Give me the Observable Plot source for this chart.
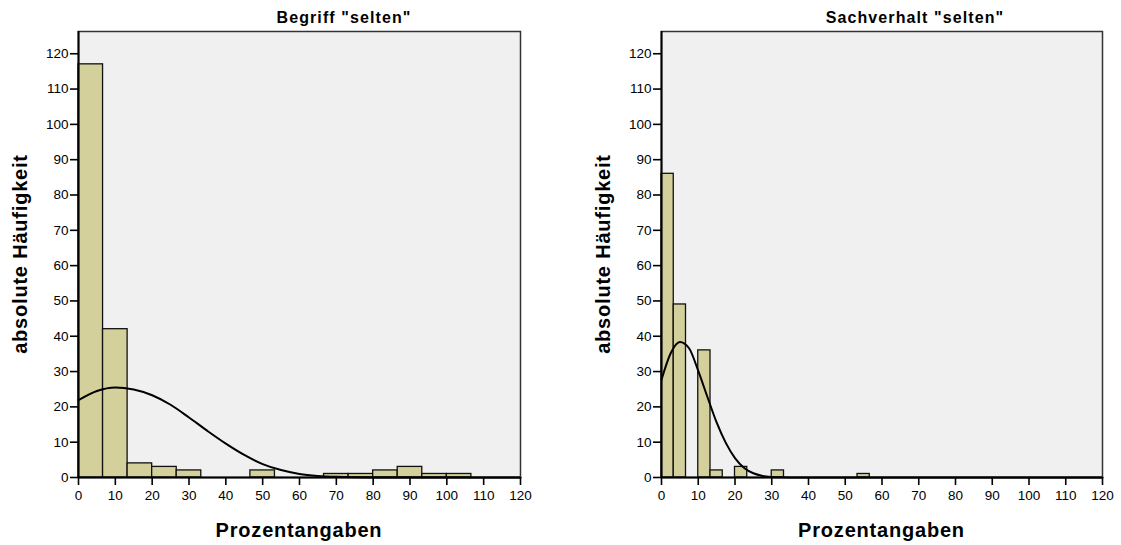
<!DOCTYPE html>
<html>
<head>
<meta charset="utf-8">
<script src="https://cdn.jsdelivr.net/npm/d3@7"></script>
<script src="https://cdn.jsdelivr.net/npm/@observablehq/plot@0.6"></script>
<style>
  html, body { margin: 0; padding: 0; background: #ffffff; }
  #root { position: relative; width: 1121px; height: 545px; overflow: hidden; font-family: "Liberation Sans", Arial, sans-serif; }
  #root > div { position: absolute; top: 0; }
</style>
</head>
<body>
<div id="root"><div id="left"></div><div id="right"></div></div>
<script>
// ---- data ----
const xTicks = [0, 10, 20, 30, 40, 50, 60, 70, 80, 90, 100, 110, 120];
const yTicks = [0, 10, 20, 30, 40, 50, 60, 70, 80, 90, 100, 110, 120];

const leftTitle = 'Begriff "selten"';
const leftBinWidth = 100 / 15;
const leftCounts = [117, 42, 4, 3, 2, 0, 0, 2, 0, 0, 1, 1, 2, 3, 1, 1];
const leftCurveX = [0, 5, 10, 15, 20, 25, 30, 35, 40, 45, 50, 55, 60, 65, 70, 75, 80, 90, 100, 110, 120];
const leftCurveY = [21.9, 24.5, 25.5, 24.9, 23.3, 20.6, 17.0, 13.2, 9.6, 6.4, 3.8, 2.1, 1.0, 0.45, 0.18, 0.06, 0.02, 0, 0, 0, 0];

const rightTitle = 'Sachverhalt "selten"';
const rightBinWidth = 10 / 3;
const rightCounts = [86, 49, 0, 36, 2, 0, 3, 0, 0, 2, 0, 0, 0, 0, 0, 0, 1];
const rightCurveX = [0, 2.5, 5, 7.5, 10, 12.5, 15, 17.5, 20, 22.5, 25, 27.5, 30, 32.5, 35, 40, 60, 80, 100, 120];
const rightCurveY = [27.7, 35.2, 38.4, 36.6, 30.2, 22.8, 15.6, 9.8, 5.5, 2.7, 1.2, 0.45, 0.15, 0.04, 0.01, 0, 0, 0, 0, 0];

const yLabel = "absolute Häufigkeit";
const xLabel = "Prozentangaben";

// ---- drawing ----
function panel({counts, binWidth, curveX, curveY, width, marginLeft, marginRight, title, titleX}) {
  const bins = counts.map((n, i) => ({x1: i * binWidth, x2: (i + 1) * binWidth, n})).filter(d => d.n > 0);
  const curve = curveX.map((x, i) => ({x, y: curveY[i]}));
  const chart = Plot.plot({
    width, height: 545,
    marginLeft, marginRight, marginTop: 31, marginBottom: 68,
    x: {domain: [0, 120]},
    y: {domain: [0, 126.3]},
    style: {fontFamily: '"Liberation Sans", Arial, sans-serif', fontSize: "13.5px", color: "black", background: "transparent", overflow: "visible"},
    marks: [
      Plot.frame({fill: "#f0f0f0", stroke: "none"}),
      Plot.rectY(bins, {x1: "x1", x2: "x2", y: "n", fill: "#d4d09c", stroke: "#111", strokeWidth: 1.3}),
      Plot.line(curve, {x: "x", y: "y", curve: "monotone-x", stroke: "black", strokeWidth: 2}),
      Plot.frame({stroke: "#333", strokeWidth: 1.5}),
      Plot.ruleY([0], {stroke: "black", strokeWidth: 2}),
      Plot.ruleX([0], {stroke: "black", strokeWidth: 2}),
      Plot.axisX({ticks: xTicks, tickSize: 8, tickPadding: 5, strokeWidth: 1.6, label: null, fontSize: 13.5}),
      Plot.axisY({ticks: yTicks, tickSize: 8, tickPadding: 2, strokeWidth: 1.6, label: null, fontSize: 13.5})
    ]
  });
  const svg = d3.select(chart);
  const cx = (marginLeft + width - marginRight) / 2;
  svg.append("text").text(title)
    .attr("x", titleX).attr("y", 23).attr("text-anchor", "middle")
    .attr("font-weight", "bold").attr("font-size", 16).attr("letter-spacing", "1.1px").attr("fill", "black");
  svg.append("text").text(xLabel)
    .attr("x", cx).attr("y", 537).attr("text-anchor", "middle")
    .attr("font-weight", "bold").attr("font-size", 20).attr("letter-spacing", "0.8px").attr("fill", "black");
  svg.append("text").text(yLabel)
    .attr("transform", `translate(${marginLeft - 51},254) rotate(-90)`).attr("text-anchor", "middle")
    .attr("font-weight", "bold").attr("font-size", 20).attr("letter-spacing", "0.8px").attr("fill", "black");
  return chart;
}

const leftDiv = document.getElementById("left");
leftDiv.style.left = "0px";
leftDiv.appendChild(panel({counts: leftCounts, binWidth: leftBinWidth, curveX: leftCurveX, curveY: leftCurveY,
  width: 590, marginLeft: 78, marginRight: 70, title: leftTitle, titleX: 344}));

const rightDiv = document.getElementById("right");
rightDiv.style.left = "590px";
rightDiv.appendChild(panel({counts: rightCounts, binWidth: rightBinWidth, curveX: rightCurveX, curveY: rightCurveY,
  width: 531, marginLeft: 71, marginRight: 19, title: rightTitle, titleX: 325}));
</script>
</body>
</html>
